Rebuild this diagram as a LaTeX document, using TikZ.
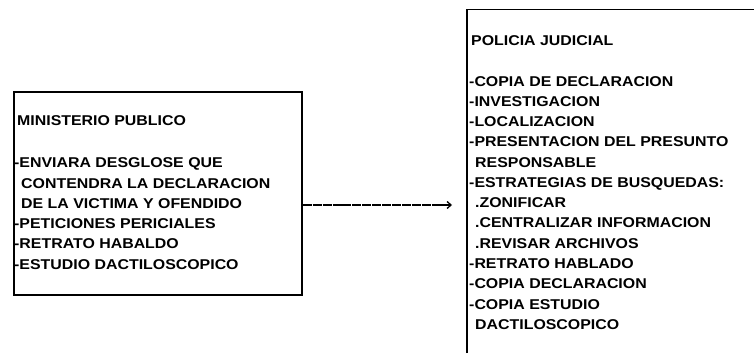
\documentclass[tikz,border=0pt]{standalone}
\usepackage{fontspec}
\setmainfont{Liberation Sans}[FakeStretch=1.12]
\usetikzlibrary{arrows.meta}
\begin{document}
\begin{tikzpicture}[x=1pt,y=-1pt,
  lbl/.style={anchor=base west,inner sep=0pt,font=\fontsize{14.2}{16}\selectfont\bfseries},
  boxline/.style={line width=1.8pt},
  conn/.style={line width=1.3pt,dash pattern=on 9pt off 0.9pt,-{Straight Barb[length=4pt,width=7pt]}}]
\useasboundingbox (0,0) rectangle (754,353);
% left box
\node[boxline,draw,minimum width=288pt,minimum height=203pt,anchor=north west,inner sep=0pt] (mp) at (13,91) {};
\node[lbl] (mp0) at (17,125.7) {MINISTERIO PUBLICO};
\node[lbl] (mp1) at (14,167.7) {-ENVIARA DESGLOSE QUE};
\node[lbl] (mp2) at (21,188) {CONTENDRA LA DECLARACION};
\node[lbl] (mp3) at (21,208.3) {DE LA VICTIMA Y OFENDIDO};
\node[lbl] (mp4) at (14,228.5) {-PETICIONES PERICIALES};
\node[lbl] (mp5) at (14,248.8) {-RETRATO HABALDO};
\node[lbl] (mp6) at (14,269) {-ESTUDIO DACTILOSCOPICO};
% right box (open on right and bottom)
\coordinate (pjb) at (467,353);
\coordinate (pjt) at (467,9.5);
\coordinate (pjr) at (754,9.5);
\draw[boxline] (pjb) -- (pjt) -- (pjr);
\node[lbl] (pj0) at (471,45.7) {POLICIA JUDICIAL};
\node[lbl] (pj1) at (469,86) {-COPIA DE DECLARACION};
\node[lbl] (pj2) at (469,106.3) {-INVESTIGACION};
\node[lbl] (pj3) at (469,126.5) {-LOCALIZACION};
\node[lbl] (pj4) at (469,146.8) {-PRESENTACION DEL PRESUNTO};
\node[lbl] (pj5) at (475,167.1) {RESPONSABLE};
\node[lbl] (pj6) at (469,187.4) {-ESTRATEGIAS DE BUSQUEDAS:};
\node[lbl] (pj7) at (475,207.6) {.ZONIFICAR};
\node[lbl] (pj8) at (475,227.9) {.CENTRALIZAR INFORMACION};
\node[lbl] (pj9) at (475,248.2) {.REVISAR ARCHIVOS};
\node[lbl] (pj10) at (469,268.5) {-RETRATO HABLADO};
\node[lbl] (pj11) at (469,288.7) {-COPIA DECLARACION};
\node[lbl] (pj12) at (469,309) {-COPIA ESTUDIO};
\node[lbl] (pj13) at (475,329.3) {DACTILOSCOPICO};
% connector
\coordinate (tip) at (452,205);
\draw[conn] (mp.east |- tip) -- (tip);
\end{tikzpicture}
\end{document}
